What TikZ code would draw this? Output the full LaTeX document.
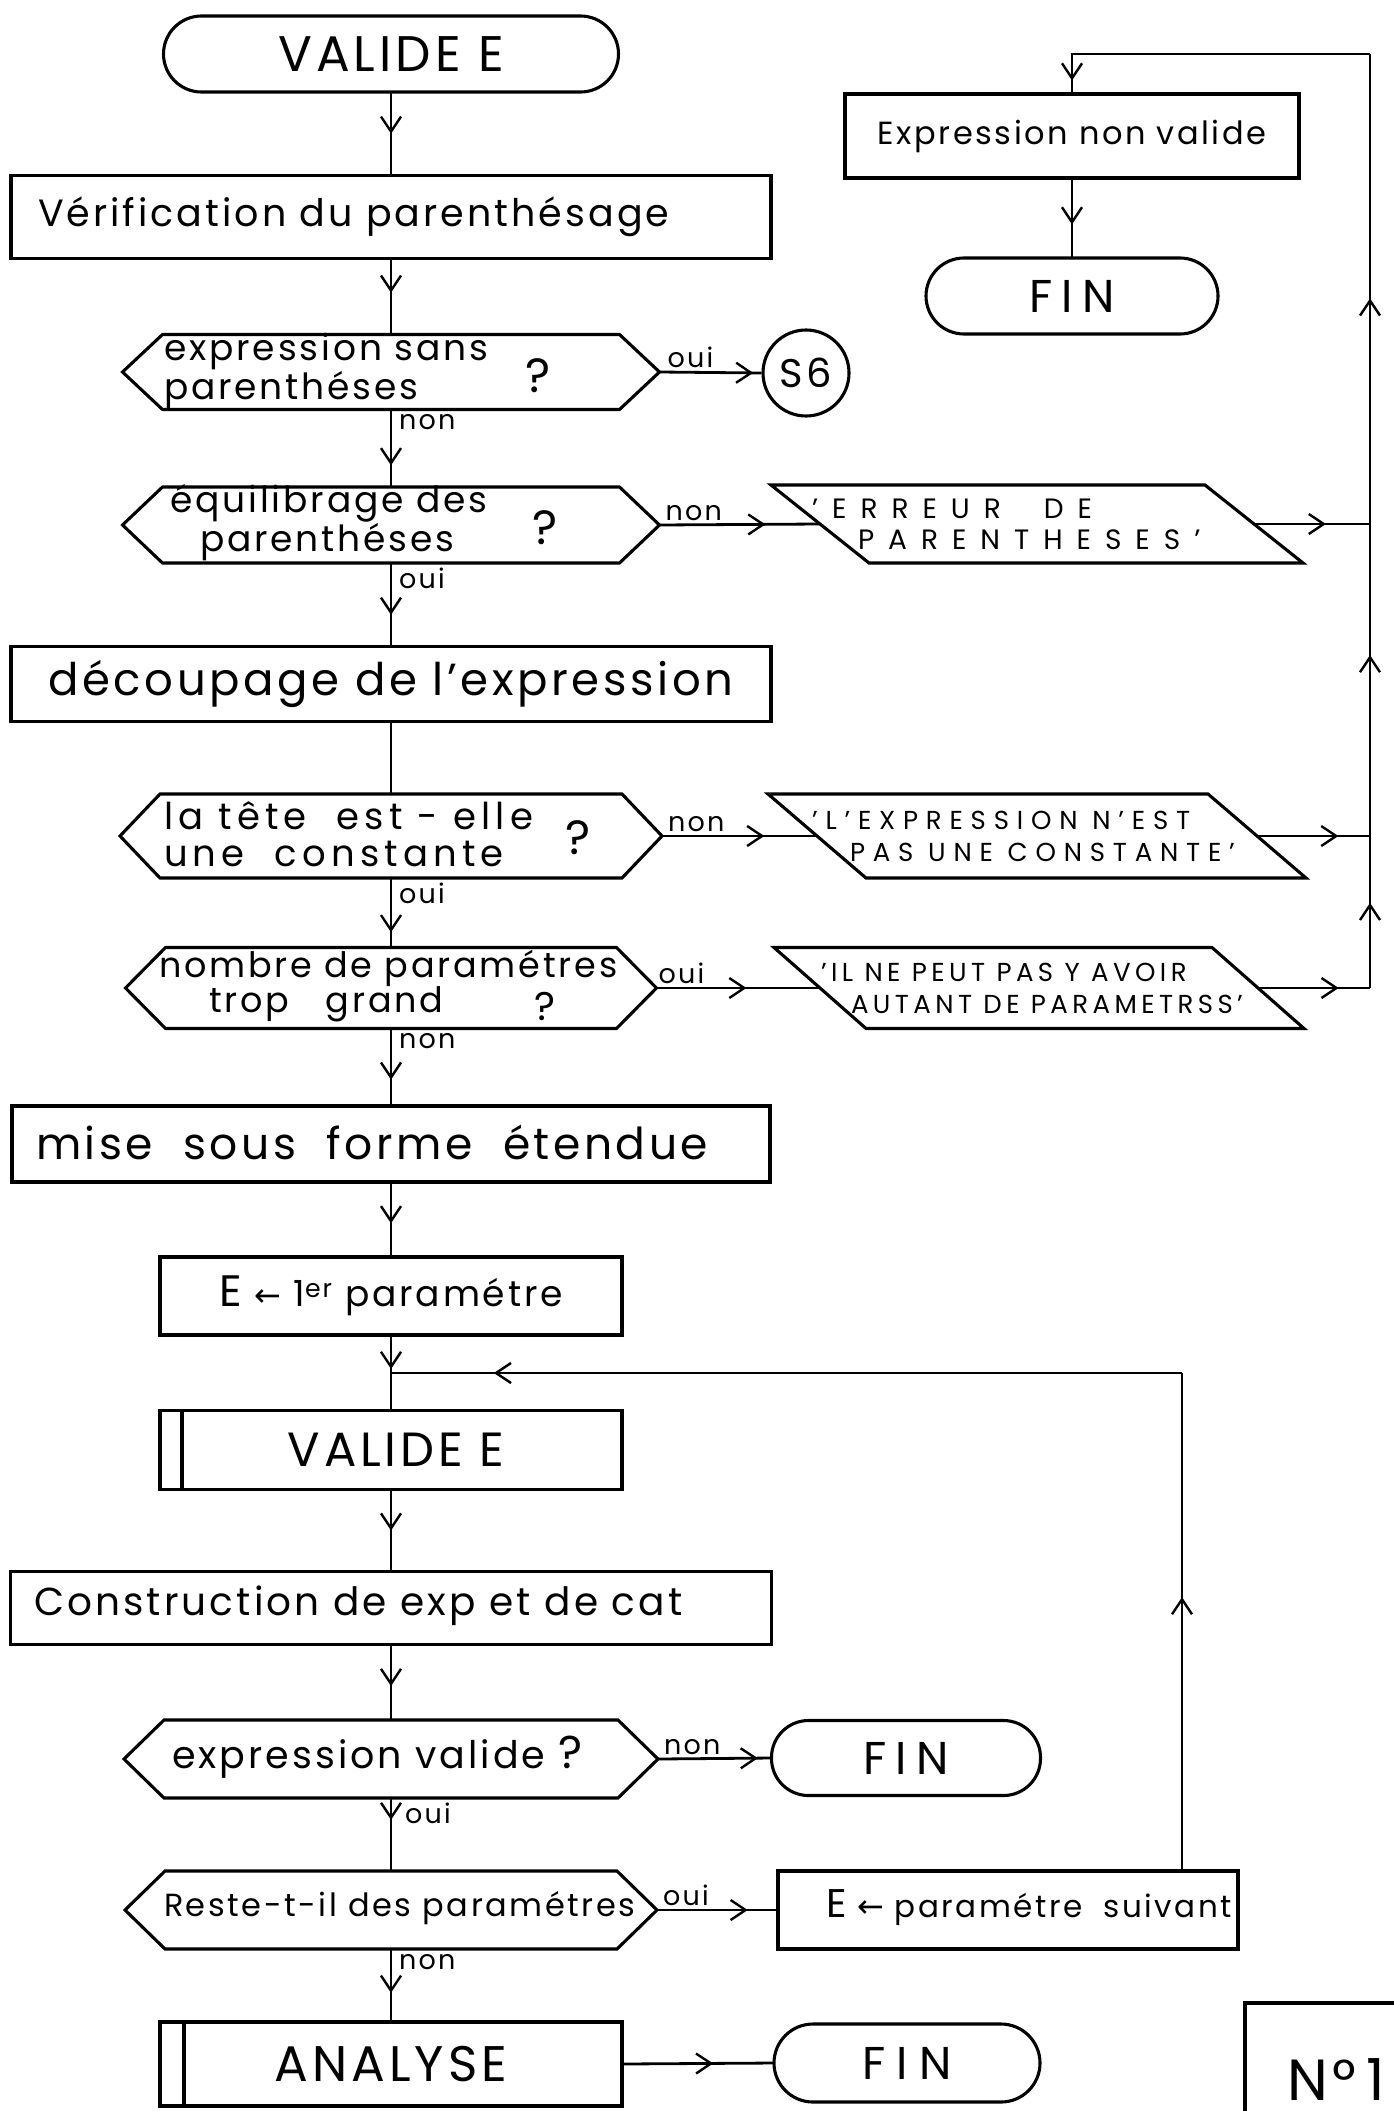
\documentclass[tikz,border=0pt]{standalone}
\usepackage{fontspec}
\setmainfont{Poppins}[LetterSpace=8]
\newfontfamily\symfont{DejaVu Sans}
\usetikzlibrary{calc,arrows.meta,decorations.markings}

% outlines that are not plain rectangles
\newcommand\hexout[2]{\draw[ink] ($(#1.north west)+(#2,0)$) -- ($(#1.north east)+(-#2,0)$) -- (#1.east)
  -- ($(#1.south east)+(-#2,0)$) -- ($(#1.south west)+(#2,0)$) -- (#1.west) -- cycle;}
\newcommand\paraout[2]{\draw[ink] ($(#1.north west)+(-#2,0)$) -- ($(#1.north east)+(-#2,0)$)
  -- ($(#1.south east)+(#2,0)$) -- ($(#1.south west)+(#2,0)$) -- cycle;}
\newcommand\subbar[2]{\draw[ink] ($(#1.north west)+(#2,0)$) -- ($(#1.south west)+(#2,0)$);}
\newcommand\fs[1]{\fontsize{#1}{#1}\selectfont}
\newcommand\fsb[2]{\fontsize{#1}{#2}\selectfont}
\newcommand\assignarrow{{\symfont\fontsize{32}{32}\selectfont ←}}

\tikzset{
  ink/.style={line width=3.1pt, line join=miter},
  box/.style={ink, draw, rectangle, inner sep=0pt, outer sep=0pt, align=center},
  term/.style={box, rounded corners=#1},
  shell/.style={rectangle, inner sep=0pt, outer sep=0pt},
  txt/.style={inner sep=0pt, outer sep=0pt, align=left, anchor=west},
  conn/.style={line width=2.8pt},
  tip/.style={conn, postaction={decorate}, decoration={markings,
      mark=at position #1 with {\arrow{Straight Barb[length=15pt,width=20pt,line width=2.4pt]}}}},
  tag/.style={inner sep=0pt, font=\fs{27}},
  qmark/.style={inner sep=0pt, font=\fs{48}},
}

\begin{document}
\begin{tikzpicture}[x=1pt,y=-1pt]
\useasboundingbox (0,0) rectangle (1393,2111);

% ---------- main column ----------
\node[term=38pt, minimum width=455pt, minimum height=76pt, font=\fs{50}]
  (t1) at (391,54) {VALIDE E};

\node[box, minimum width=760pt, minimum height=83pt] (verif) at (391,217) {};
\node[txt, font=\fs{38}] (verift) at (38,217) {Vérification du parenthésage};

\node[shell, minimum width=537pt, minimum height=75pt] (h1) at (391,372) {};
\hexout{h1}{40}
\node[txt, font=\fs{36}] (h1t) at (164,371) {expression sans\\parenthéses};
\node[qmark] (q1) at (538,376) {?};

\node[draw, ink, circle, minimum size=86pt, inner sep=0pt, font=\fs{40}]
  (s6) at (806,373) {S6};

\node[shell, minimum width=537pt, minimum height=76pt] (h2) at (391,525) {};
\hexout{h2}{40}
\node[txt, font=\fs{36}] (h2t) at (170,523) {équilibrage des\\\hspace*{30pt}parenthéses};
\node[qmark] (q2) at (545,528) {?};

\node[box, minimum width=760pt, minimum height=75pt, font=\fs{45}]
  (decoup) at (391,684) {découpage de l’expression};

\node[shell, minimum width=542pt, minimum height=84pt] (h3) at (391,836) {};
\hexout{h3}{40}
\node[txt, font={\fs{37}\addfontfeature{LetterSpace=14}}] (h3t) at (164,834)
  {la tête \ est - elle\\une \ constante};
\node[qmark] (q3) at (578,838) {?};

\node[shell, minimum width=531pt, minimum height=81pt] (h4) at (391,988) {};
\hexout{h4}{40}
\node[txt, font=\fs{35}] (h4t) at (159,986) {nombre de paramétres\\\hspace*{50pt}trop \ \ grand};
\node[qmark, font=\fs{40}] (q4) at (545,1006) {?};

\node[box, minimum width=758pt, minimum height=76pt] (mise) at (391,1144) {};
\node[txt, font=\fs{44}] (miset) at (36,1142) {mise \ sous \ forme \ étendue};

\node[box, minimum width=462pt, minimum height=78pt, font=\fs{36}]
  (e1) at (391,1296) {{\fs{44}E} \assignarrow{} 1\textsuperscript{er} paramétre};

\coordinate (merge) at (391,1373);

\node[box, minimum width=462pt, minimum height=79pt, font=\fs{48}]
  (ve) at (391,1450) {\hspace*{10pt}VALIDE E};
\subbar{ve}{22}

\node[box, minimum width=761pt, minimum height=73pt] (constr) at (391,1608) {};
\node[txt, font=\fs{39}] (constrt) at (34,1606) {Construction de exp et de cat};

\node[shell, minimum width=534pt, minimum height=78pt] (h5) at (391,1759) {};
\hexout{h5}{40}
\node[txt, font=\fs{38}] (h5t) at (172,1757) {expression valide {\fs{46}?}};

\node[shell, minimum width=532pt, minimum height=78pt] (h6) at (391,1910) {};
\hexout{h6}{40}
\node[txt, font=\fs{32}] (h6t) at (164,1908) {Reste-t-il des paramétres};

\node[box, minimum width=462pt, minimum height=84pt, font=\fs{50}]
  (an) at (391,2064) {ANALYSE};
\subbar{an}{24}

% ---------- right-hand nodes ----------
\node[box, minimum width=454pt, minimum height=84pt, font=\fs{32}]
  (env) at (1072,136) {Expression non valide};
\node[term=38pt, minimum width=292pt, minimum height=76pt, font={\fs{46}\addfontfeature{LetterSpace=20}}]
  (fin1) at (1072,296) {FIN};

\node[shell, minimum width=434pt, minimum height=78pt] (p1) at (1037,524) {};
\paraout{p1}{49}
\node[txt, font={\fsb{28}{31}\addfontfeature{LetterSpace=50}}] (p1t) at (812,524)
  {’ERREUR \ DE\\\hspace*{46pt}PARENTHESES’};

\node[shell, minimum width=440pt, minimum height=84pt] (p2) at (1037,836) {};
\paraout{p2}{49}
\node[txt, font={\fsb{26}{32}\addfontfeature{LetterSpace=30}}] (p2t) at (812,836)
  {’L’EXPRESSION N’EST\\\hspace*{38pt}PAS UNE CONSTANTE’};

\node[shell, minimum width=438pt, minimum height=81pt] (p3) at (1039,988) {};
\paraout{p3}{46}
\node[txt, font={\fsb{26}{32}\addfontfeature{LetterSpace=17}}] (p3t) at (821,988)
  {’IL NE PEUT PAS Y AVOIR\\\hspace*{30pt}AUTANT DE PARAMETRSS’};

\node[term=37pt, minimum width=269pt, minimum height=75pt, font={\fs{46}\addfontfeature{LetterSpace=20}}]
  (fin2) at (906,1758) {FIN};
\node[box, minimum width=460pt, minimum height=78pt] (es) at (1008,1910) {};
\node[txt, font=\fs{31}] (est) at (826,1908) {{\fs{40}E} \assignarrow{} paramétre \ suivant};
\node[term=39pt, minimum width=266pt, minimum height=78pt, font={\fs{46}\addfontfeature{LetterSpace=25}}]
  (fin3) at (907,2063) {FIN};

\node[box, minimum width=300pt, minimum height=200pt, anchor=north west] (nbox) at (1245,2003) {};
\node[txt, font=\fs{58}] (nnum) at (1287,2080) {N°\hspace*{10pt}1};

% ---------- connectors of the main column ----------
\draw[tip=0.5]  (t1.south) -- (verif.north);
\draw[tip=0.45] (verif.south) -- (h1.north);
\draw[tip=0.72] (h1.south) -- (h2.north);
\draw[tip=0.62] (h2.south) -- (decoup.north);
\draw[conn]     (decoup.south) -- (h3.north);
\draw[tip=0.78] (h3.south) -- (h4.north);
\draw[tip=0.66] (h4.south) -- (mise.north);
\draw[tip=0.55] (mise.south) -- (e1.north);
\draw[tip=0.45] (e1.south) -- (ve.north);
\draw[tip=0.5]  (ve.south) -- (constr.north);
\draw[tip=0.55] (constr.south) -- (h5.north);
\draw[tip=0.3]  (h5.south) -- (h6.north);
\draw[tip=0.6]  (h6.south) -- (an.north);

% ---------- side branches ----------
\draw[tip=0.92] (h1.east) -- (s6.west);
\draw[tip=0.66] (h2.east) -- (p1.west);
\draw[tip=0.66] (h3.east) -- (p2.west);
\draw[tip=0.55] (h4.east) -- (p3.west);
\draw[tip=0.88] (h5.east) -- (fin2.west);
\draw[tip=0.75] (h6.east) -- (es.west);
\draw[tip=0.6]  (an.east) -- (fin3.west);

% ---------- error collector on the right ----------
\coordinate (rx) at (1370,54);
\draw[tip=0.62] (p1.east) -- (p1.east -| rx);
\draw[tip=0.72] (p2.east) -- (p2.east -| rx);
\draw[tip=0.72] (p3.east) -- (p3.east -| rx);
\draw[tip=0.56] (p3.east -| rx) -- (p2.east -| rx);
\draw[tip=0.58] (p2.east -| rx) -- (p1.east -| rx);
\draw[tip=0.48] (p1.east -| rx) -- (rx);
\draw[tip=0.96] (rx) -| (env.north);
\draw[tip=0.58] (env.south) -- (fin1.north);

% ---------- loop back to VALIDE E ----------
\coordinate (lpS) at (1182,1871);
\coordinate (lpT) at (1182,1373);
\draw[tip=0.55] (lpS) -- (lpT);
\draw[tip=0.87] (lpT) -- (merge);

% ---------- branch labels ----------
\node[tag, anchor=south west] at ($(h1.east)+(8,-4)$) {oui};
\node[tag, anchor=north west] at ($(h1.south)+(8,5)$) {non};
\node[tag, anchor=south west] at ($(h2.east)+(6,-4)$) {non};
\node[tag, anchor=north west] at ($(h2.south)+(8,5)$) {oui};
\node[tag, anchor=south west] at ($(h3.east)+(6,-4)$) {non};
\node[tag, anchor=north west] at ($(h3.south)+(8,5)$) {oui};
\node[tag, anchor=south west] at ($(h4.east)+(2,-4)$) {oui};
\node[tag, anchor=north west] at ($(h4.south)+(8,5)$) {non};
\node[tag, anchor=south west] at ($(h5.east)+(6,-4)$) {non};
\node[tag, anchor=north west] at ($(h5.south)+(14,5)$) {oui};
\node[tag, anchor=south west] at ($(h6.east)+(6,-4)$) {oui};
\node[tag, anchor=north west] at ($(h6.south)+(8,5)$) {non};
\end{tikzpicture}
\end{document}
